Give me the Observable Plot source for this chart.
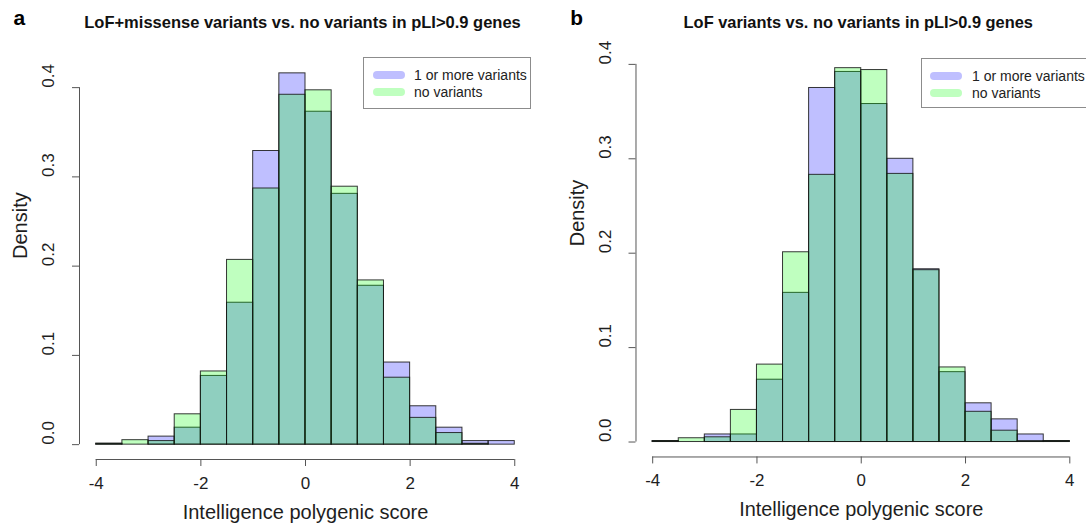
<!DOCTYPE html>
<html>
<head>
<meta charset="utf-8">
<script src="https://cdn.jsdelivr.net/npm/d3@7"></script>
<script src="https://cdn.jsdelivr.net/npm/@observablehq/plot@0.6"></script>
<style>
  body { margin: 0; background: #fff; }
  #fig { position: relative; width: 1086px; height: 531px; overflow: hidden;
         font-family: "Liberation Sans", Arial, sans-serif; }
  .panel { position: absolute; top: 0; }
  .panel svg { overflow: visible; }
  .legend { position: absolute; border: 1px solid #8c8c8c; background: #fff; box-sizing: border-box; }
  .legend .row { position: absolute; left: 0; height: 16px; display: flex; align-items: center;
                 font-size: 14px; color: #222; white-space: nowrap; }
  .legend .swatch { height: 8px; border-radius: 4px; }
  .legend .label { position: absolute; }
</style>
</head>
<body>
<div id="fig"></div>
<script>
// Histogram bin edges shared by both panels (width 0.5)
const binEdges = [-4, -3.5, -3, -2.5, -2, -1.5, -1, -0.5, 0, 0.5, 1, 1.5, 2, 2.5, 3, 3.5, 4];
const seriesNames = ["1 or more variants", "no variants"];

// Panel a: LoF + missense variants in pLI>0.9 genes (densities per bin)
const lofMissenseCarriers    = [0.001, 0.000, 0.009, 0.019, 0.077, 0.159, 0.329, 0.416, 0.373, 0.281, 0.178, 0.092, 0.043, 0.019, 0.004, 0.004];
const lofMissenseNonCarriers = [0.001, 0.005, 0.004, 0.034, 0.082, 0.207, 0.287, 0.392, 0.397, 0.289, 0.184, 0.075, 0.030, 0.013, 0.001, 0.000];

// Panel b: LoF variants only
const lofCarriers    = [0.001, 0.000, 0.008, 0.008, 0.066, 0.158, 0.375, 0.392, 0.358, 0.300, 0.183, 0.074, 0.041, 0.024, 0.008, 0.001];
const lofNonCarriers = [0.001, 0.004, 0.005, 0.034, 0.082, 0.201, 0.283, 0.396, 0.394, 0.284, 0.182, 0.079, 0.032, 0.012, 0.001, 0.001];

const xTicks = [-4, -2, 0, 2, 4];
const yTicks = [0, 0.1, 0.2, 0.3, 0.4];
const panelLetters = ["a", "b"];
const panelTitles = [
  "LoF+missense variants vs. no variants in pLI>0.9 genes",
  "LoF variants vs. no variants in pLI>0.9 genes"
];
const xLabel = "Intelligence polygenic score";
const yLabel = "Density";

const carrierFill = "rgb(0,0,255)";
const nonCarrierFill = "rgb(0,255,0)";
const fillAlpha = 0.25;
const axisInk = "#555";
const textInk = "#1e1e1e";

function binRows(values) {
  return values.map((v, i) => ({x0: binEdges[i], x1: binEdges[i + 1], density: v}));
}

function drawPanel(cfg) {
  const lo = binEdges[0], hi = binEdges[binEdges.length - 1];
  const xPad = 0.04 * (hi - lo);
  const yMax = d3.max([...cfg.carriers, ...cfg.nonCarriers]);
  const yDomain = [-0.04 * yMax, 1.04 * yMax];

  const barStyle = {x1: "x0", x2: "x1", y: "density", inset: 0,
                    fillOpacity: fillAlpha, stroke: "#151515", strokeOpacity: 0.85, strokeWidth: 1};

  const chart = Plot.plot({
    width: cfg.width, height: 531,
    marginLeft: cfg.marginLeft, marginRight: cfg.marginRight,
    marginTop: cfg.marginTop, marginBottom: 72,
    style: {fontFamily: '"Liberation Sans", Arial, sans-serif', background: "transparent", color: textInk},
    x: {domain: [lo - xPad, hi + xPad]},
    y: {domain: yDomain},
    marks: [
      Plot.rectY(binRows(cfg.carriers), {...barStyle, fill: carrierFill}),
      Plot.rectY(binRows(cfg.nonCarriers), {...barStyle, fill: nonCarrierFill}),
      // x axis: line spans first to last tick at the bottom of the plot region
      Plot.ruleY([yDomain[0]], {x1: xTicks[0], x2: xTicks[xTicks.length - 1], stroke: axisInk}),
      Plot.axisX({ticks: xTicks, tickSize: 7, tickPadding: 10, fontSize: 17, label: null,
                  stroke: axisInk, color: textInk, tickFormat: d => String(d).replace("−", "-")}),
      // y axis: line from 0 to 0.4 on the left edge, labels turned vertical
      Plot.ruleX([lo - xPad], {y1: yTicks[0], y2: yTicks[yTicks.length - 1], stroke: axisInk}),
      Plot.axisY({ticks: yTicks, tickSize: 7, label: null, stroke: axisInk, tickFormat: () => ""}),
      Plot.text(yTicks, {y: d => d, frameAnchor: "left", dx: -31, rotate: -90,
                         text: d => d.toFixed(1), fontSize: 17, fill: textInk}),
      Plot.text([yLabel], {frameAnchor: "left", dx: -59, dy: cfg.yLabelDy, rotate: -90, fontSize: 20, fill: textInk}),
      Plot.text([xLabel], {frameAnchor: "bottom", dy: 59, fontSize: 20, fill: textInk}),
      Plot.text([cfg.title], {frameAnchor: "top", dy: cfg.titleDy, dx: -3, lineAnchor: "middle",
                              fontSize: 16.5, fontWeight: "bold", fill: "#111"}),
      Plot.text([cfg.letter], {frameAnchor: "top-left", dx: cfg.letterDx, dy: cfg.letterDy,
                               textAnchor: "start", lineAnchor: "middle",
                               fontSize: 21, fontWeight: "bold", fill: "#000"})
    ]
  });

  const holder = document.createElement("div");
  holder.className = "panel";
  holder.style.left = cfg.left + "px";
  holder.appendChild(chart);
  document.getElementById("fig").appendChild(holder);

  // legend box in the top-right corner of the plot region
  const box = document.createElement("div");
  box.className = "legend";
  Object.assign(box.style, {left: cfg.legend.left + "px", top: cfg.legend.top + "px",
                            width: cfg.legend.width + "px", height: cfg.legend.height + "px"});
  [carrierFill, nonCarrierFill].forEach((c, i) => {
    const row = document.createElement("div");
    row.className = "row";
    row.style.top = (9 + i * 17) + "px";
    row.style.width = "100%";
    const sw = document.createElement("div");
    sw.className = "swatch";
    Object.assign(sw.style, {position: "absolute", left: cfg.legend.swatchLeft + "px", width: "32px",
                             background: c, opacity: fillAlpha});
    const lab = document.createElement("span");
    lab.className = "label";
    lab.style.left = "50px";
    lab.textContent = seriesNames[i];
    row.appendChild(sw);
    row.appendChild(lab);
    box.appendChild(row);
  });
  document.getElementById("fig").appendChild(box);
}

drawPanel({
  left: 0, width: 543, marginLeft: 79, marginRight: 12, marginTop: 58,
  carriers: lofMissenseCarriers, nonCarriers: lofMissenseNonCarriers,
  title: panelTitles[0], letter: panelLetters[0],
  titleDy: -36, letterDy: -40, letterDx: -66, yLabelDy: 0,
  legend: {left: 363, top: 57, width: 168, height: 52, swatchLeft: 9}
});

drawPanel({
  left: 543, width: 546, marginLeft: 93, marginRight: 0, marginTop: 53,
  carriers: lofCarriers, nonCarriers: lofNonCarriers,
  title: panelTitles[1], letter: panelLetters[1],
  titleDy: -31, letterDy: -35, letterDx: -66, yLabelDy: -9,
  legend: {left: 921, top: 58, width: 166, height: 50, swatchLeft: 8}
});
</script>
</body>
</html>
